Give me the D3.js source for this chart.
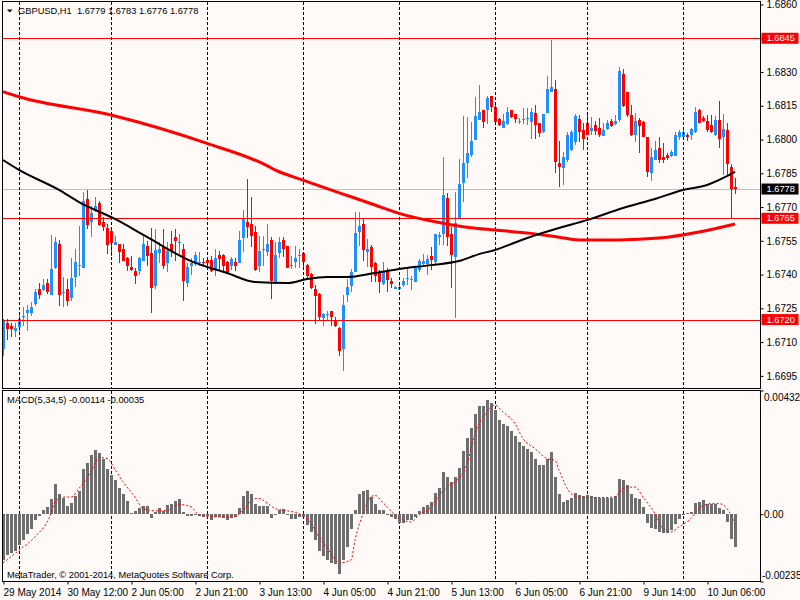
<!DOCTYPE html>
<html>
<head>
<meta charset="utf-8">
<script src="https://cdn.jsdelivr.net/npm/d3@7"></script>
<style>
  body { margin: 0; background: #fffaf8; }
  svg { display: block; font-family: "Liberation Sans", Arial, sans-serif; font-size: 9.3px; }
</style>
</head>
<body>
<script>
// GBPUSD,H1 candles + two moving averages, MACD(5,34,5) below

var opens = [
  1.67069, 1.67185, 1.67173, 1.67151, 1.67169, 1.67214, 1.67229, 1.67229, 1.67269, 1.67336,
  1.67333, 1.67361, 1.67311, 1.67429, 1.67536, 1.67320, 1.67336, 1.67296, 1.67388, 1.67440,
  1.67431, 1.67736, 1.67632, 1.67684, 1.67717, 1.67632, 1.67607, 1.67595, 1.67533, 1.67536,
  1.67514, 1.67472, 1.67435, 1.67417, 1.67414, 1.67462, 1.67526, 1.67496, 1.67351, 1.67494,
  1.67526, 1.67450, 1.67536, 1.67566, 1.67542, 1.67514, 1.67361, 1.67437, 1.67447, 1.67450,
  1.67457, 1.67466, 1.67466, 1.67425, 1.67487, 1.67487, 1.67457, 1.67440, 1.67454, 1.67451,
  1.67563, 1.67635, 1.67625, 1.67588, 1.67440, 1.67511, 1.67502, 1.67554, 1.67363, 1.67494,
  1.67554, 1.67526, 1.67441, 1.67454, 1.67486, 1.67496, 1.67443, 1.67403, 1.67336, 1.67314,
  1.67206, 1.67220, 1.67237, 1.67200, 1.67163, 1.67069, 1.67309, 1.67351, 1.67413, 1.67588,
  1.67625, 1.67502, 1.67524, 1.67450, 1.67413, 1.67357, 1.67416, 1.67371, 1.67336, 1.67336,
  1.67354, 1.67380, 1.67376, 1.67369, 1.67420, 1.67446, 1.67446, 1.67483, 1.67457, 1.67569,
  1.67579, 1.67739, 1.67579, 1.67480, 1.67650, 1.67809, 1.67894, 1.67931, 1.67998, 1.68087,
  1.68131, 1.68131, 1.68194, 1.68146, 1.68091, 1.68050, 1.68068, 1.68130, 1.68112, 1.68081,
  1.68088, 1.68091, 1.68077, 1.68117, 1.68075, 1.68032, 1.68120, 1.68210, 1.68225, 1.67894,
  1.67872, 1.67909, 1.67954, 1.67991, 1.68091, 1.68043, 1.68072, 1.68038, 1.68065, 1.68053,
  1.68017, 1.68047, 1.68083, 1.68068, 1.68087, 1.68291, 1.68210, 1.68109, 1.68020, 1.68087,
  1.68077, 1.68013, 1.67850, 1.67909, 1.67961, 1.67924, 1.67931, 1.67928, 1.67928, 1.68010,
  1.68013, 1.68020, 1.68020, 1.68032, 1.68131, 1.68094, 1.68083, 1.68065, 1.68020, 1.68087,
  1.68010, 1.68043, 1.67880, 1.67790
];
var highs = [
  1.67203, 1.67203, 1.67185, 1.67183, 1.67228, 1.67257, 1.67265, 1.67280, 1.67336, 1.67361,
  1.67380, 1.67380, 1.67576, 1.67569, 1.67554, 1.67388, 1.67380, 1.67474, 1.67514, 1.67617,
  1.67766, 1.67776, 1.67706, 1.67743, 1.67726, 1.67654, 1.67625, 1.67600, 1.67573, 1.67536,
  1.67536, 1.67477, 1.67484, 1.67428, 1.67477, 1.67580, 1.67551, 1.67607, 1.67603, 1.67543,
  1.67603, 1.67543, 1.67595, 1.67603, 1.67580, 1.67536, 1.67450, 1.67472, 1.67502, 1.67502,
  1.67472, 1.67477, 1.67481, 1.67514, 1.67506, 1.67491, 1.67462, 1.67480, 1.67472, 1.67595,
  1.67687, 1.67825, 1.67746, 1.67617, 1.67573, 1.67573, 1.67625, 1.67566, 1.67546, 1.67566,
  1.67566, 1.67529, 1.67484, 1.67526, 1.67514, 1.67499, 1.67447, 1.67407, 1.67354, 1.67318,
  1.67229, 1.67240, 1.67240, 1.67210, 1.67166, 1.67309, 1.67380, 1.67425, 1.67677, 1.67677,
  1.67650, 1.67558, 1.67531, 1.67457, 1.67420, 1.67457, 1.67428, 1.67383, 1.67350, 1.67361,
  1.67383, 1.67428, 1.67395, 1.67428, 1.67469, 1.67491, 1.67487, 1.67524, 1.67580, 1.67591,
  1.67921, 1.67761, 1.67613, 1.67766, 1.67914, 1.68105, 1.68102, 1.68080, 1.68191, 1.68243,
  1.68131, 1.68195, 1.68194, 1.68169, 1.68094, 1.68114, 1.68146, 1.68131, 1.68112, 1.68094,
  1.68142, 1.68139, 1.68139, 1.68154, 1.68075, 1.68114, 1.68284, 1.68443, 1.68265, 1.67994,
  1.67946, 1.68035, 1.68043, 1.68114, 1.68109, 1.68072, 1.68109, 1.68102, 1.68083, 1.68094,
  1.68072, 1.68087, 1.68091, 1.68109, 1.68321, 1.68314, 1.68210, 1.68154, 1.68117, 1.68094,
  1.68083, 1.68013, 1.67961, 1.67994, 1.68013, 1.67983, 1.67939, 1.67954, 1.68032, 1.68043,
  1.68043, 1.68028, 1.68050, 1.68146, 1.68136, 1.68105, 1.68109, 1.68109, 1.68106, 1.68171,
  1.68112, 1.68072, 1.67890, 1.67830
];
var lows = [
  1.67040, 1.67111, 1.67121, 1.67121, 1.67140, 1.67173, 1.67149, 1.67217, 1.67262, 1.67291,
  1.67329, 1.67314, 1.67309, 1.67425, 1.67262, 1.67254, 1.67262, 1.67284, 1.67343, 1.67395,
  1.67431, 1.67603, 1.67566, 1.67677, 1.67617, 1.67592, 1.67491, 1.67484, 1.67533, 1.67450,
  1.67459, 1.67414, 1.67417, 1.67358, 1.67399, 1.67459, 1.67440, 1.67229, 1.67336, 1.67450,
  1.67425, 1.67410, 1.67477, 1.67462, 1.67491, 1.67281, 1.67343, 1.67398, 1.67440, 1.67440,
  1.67440, 1.67440, 1.67410, 1.67392, 1.67417, 1.67417, 1.67403, 1.67422, 1.67417, 1.67451,
  1.67502, 1.67561, 1.67521, 1.67417, 1.67413, 1.67440, 1.67484, 1.67291, 1.67358, 1.67472,
  1.67477, 1.67428, 1.67425, 1.67431, 1.67431, 1.67432, 1.67380, 1.67336, 1.67180, 1.67198,
  1.67170, 1.67198, 1.67170, 1.67166, 1.67040, 1.66970, 1.67280, 1.67321, 1.67410, 1.67526,
  1.67462, 1.67432, 1.67369, 1.67369, 1.67317, 1.67354, 1.67324, 1.67339, 1.67336, 1.67334,
  1.67346, 1.67354, 1.67330, 1.67369, 1.67413, 1.67443, 1.67398, 1.67420, 1.67443, 1.67531,
  1.67531, 1.67529, 1.67339, 1.67209, 1.67650, 1.67724, 1.67828, 1.67924, 1.67998, 1.68087,
  1.68050, 1.68068, 1.68124, 1.68069, 1.68062, 1.68050, 1.68065, 1.68094, 1.68072, 1.68068,
  1.68068, 1.68065, 1.68001, 1.68001, 1.68010, 1.68028, 1.68117, 1.68210, 1.67850, 1.67791,
  1.67798, 1.67902, 1.67949, 1.67976, 1.67991, 1.67954, 1.68020, 1.68020, 1.68020, 1.68013,
  1.68017, 1.68043, 1.68057, 1.68065, 1.68077, 1.68146, 1.68102, 1.68017, 1.67991, 1.67939,
  1.68013, 1.67835, 1.67817, 1.67909, 1.67894, 1.67897, 1.67909, 1.67924, 1.67928, 1.67998,
  1.68006, 1.67994, 1.67998, 1.68028, 1.68072, 1.68077, 1.68035, 1.68028, 1.68017, 1.67961,
  1.67843, 1.67843, 1.67650, 1.67760
];
var closes = [
  1.67195, 1.67158, 1.67158, 1.67163, 1.67203, 1.67217, 1.67243, 1.67257, 1.67321, 1.67309,
  1.67354, 1.67321, 1.67425, 1.67546, 1.67311, 1.67323, 1.67281, 1.67383, 1.67454, 1.67442,
  1.67726, 1.67622, 1.67672, 1.67703, 1.67622, 1.67613, 1.67533, 1.67540, 1.67546, 1.67499,
  1.67459, 1.67440, 1.67422, 1.67393, 1.67474, 1.67536, 1.67484, 1.67340, 1.67509, 1.67514,
  1.67440, 1.67506, 1.67506, 1.67551, 1.67545, 1.67373, 1.67435, 1.67450, 1.67487, 1.67457,
  1.67450, 1.67451, 1.67414, 1.67472, 1.67469, 1.67440, 1.67410, 1.67469, 1.67437, 1.67554,
  1.67647, 1.67613, 1.67573, 1.67420, 1.67506, 1.67515, 1.67536, 1.67373, 1.67489, 1.67543,
  1.67514, 1.67431, 1.67444, 1.67474, 1.67489, 1.67454, 1.67392, 1.67340, 1.67303, 1.67213,
  1.67223, 1.67223, 1.67213, 1.67170, 1.67062, 1.67265, 1.67346, 1.67410, 1.67585, 1.67614,
  1.67511, 1.67514, 1.67435, 1.67395, 1.67369, 1.67416, 1.67376, 1.67357, 1.67346, 1.67346,
  1.67371, 1.67386, 1.67382, 1.67428, 1.67460, 1.67460, 1.67469, 1.67465, 1.67580, 1.67575,
  1.67754, 1.67569, 1.67487, 1.67628, 1.67803, 1.67894, 1.67942, 1.67994, 1.68105, 1.68121,
  1.68077, 1.68186, 1.68146, 1.68077, 1.68065, 1.68083, 1.68121, 1.68102, 1.68090, 1.68084,
  1.68093, 1.68096, 1.68121, 1.68065, 1.68031, 1.68114, 1.68225, 1.68235, 1.67899, 1.67880,
  1.67924, 1.68020, 1.68032, 1.68105, 1.68032, 1.68001, 1.68020, 1.68053, 1.68038, 1.68020,
  1.68043, 1.68072, 1.68062, 1.68084, 1.68305, 1.68151, 1.68109, 1.68020, 1.68083, 1.68062,
  1.68013, 1.67857, 1.67924, 1.67954, 1.67909, 1.67909, 1.67916, 1.67943, 1.68020, 1.68035,
  1.68035, 1.68010, 1.68046, 1.68121, 1.68072, 1.68083, 1.68043, 1.68032, 1.68087, 1.68001,
  1.68046, 1.67890, 1.67779, 1.67780
];

// moving averages, read at sample bars
var maRedBars = [0, 4, 27, 51, 66, 68, 75, 93, 99, 110, 117, 123, 132, 139, 144, 154, 164, 174, 183];
var maRedVals = [1.68213, 1.68190, 1.68109, 1.67983, 1.67884, 1.67865, 1.67820, 1.67709, 1.67672, 1.67628,
                 1.67608, 1.67598, 1.67583, 1.67566, 1.67554, 1.67554, 1.67562, 1.67589, 1.67625];
var maBlackBars = [0, 4, 14, 19, 28, 36, 47, 56, 63, 71, 76, 81, 86, 93, 99, 107, 114, 119, 123, 129,
                   134, 139, 146, 155, 163, 170, 176, 183];
var maBlackVals = [1.67909, 1.67865, 1.67776, 1.67722, 1.67647, 1.67567, 1.67460, 1.67407, 1.67367, 1.67362,
                   1.67380, 1.67389, 1.67389, 1.67407, 1.67425, 1.67442, 1.67460, 1.67491, 1.67509, 1.67549,
                   1.67580, 1.67607, 1.67642, 1.67696, 1.67736, 1.67776, 1.67798, 1.67856];

var macdHist = [
  -0.00161, -0.00143, -0.00135, -0.00128, -0.00108, -0.00091, -0.00070, -0.00052, -0.00021, -0.00006,
   0.00016,  0.00026,  0.00052,  0.00105,  0.00070,  0.00058,  0.00029,  0.00040,  0.00065,  0.00080,
   0.00159,  0.00180,  0.00206,  0.00223,  0.00214,  0.00194,  0.00159,  0.00136,  0.00121,  0.00093,
   0.00070,  0.00047,  0.00005,  0.00010,  0.00020,  0.00030,  0.00028, -0.00013,  0.00006,  0.00022,
   0.00012,  0.00031,  0.00035,  0.00047,  0.00052,  0.00007, -0.00007, -0.00007, -0.00002, -0.00007,
  -0.00009, -0.00007, -0.00021, -0.00009, -0.00009, -0.00012, -0.00019, -0.00012, -0.00009,  0.00020,
   0.00064,  0.00081,  0.00072,  0.00035,  0.00029,  0.00029,  0.00029, -0.00012, -0.00003,  0.00014,
   0.00017, -0.00003, -0.00015, -0.00015, -0.00009, -0.00009, -0.00038, -0.00062, -0.00091, -0.00128,
  -0.00145, -0.00161, -0.00170, -0.00175, -0.00209, -0.00161, -0.00116, -0.00052,  0.00014,  0.00069,
   0.00081,  0.00086,  0.00061,  0.00037,  0.00014,  0.00014, -0.00001, -0.00009, -0.00015, -0.00030,
  -0.00030, -0.00021, -0.00019, -0.00009,  0.00012,  0.00026,  0.00031,  0.00041,  0.00074,  0.00092,
   0.00148,  0.00130,  0.00113,  0.00130,  0.00163,  0.00221,  0.00266,  0.00301,  0.00351,  0.00377,
   0.00377,  0.00398,  0.00389,  0.00363,  0.00330,  0.00314,  0.00307,  0.00291,  0.00272,  0.00252,
   0.00237,  0.00226,  0.00218,  0.00194,  0.00171,  0.00171,  0.00194,  0.00218,  0.00130,  0.00070,
   0.00041,  0.00049,  0.00055,  0.00074,  0.00066,  0.00063,  0.00066,  0.00063,  0.00061,  0.00055,
   0.00055,  0.00055,  0.00055,  0.00063,  0.00124,  0.00121,  0.00101,  0.00072,  0.00058,  0.00052,
   0.00026, -0.00030, -0.00048, -0.00052, -0.00062, -0.00067, -0.00067, -0.00054, -0.00035, -0.00015,
  -0.00001,  0.00005,  0.00008,  0.00040,  0.00043,  0.00049,  0.00037,  0.00035,  0.00035,  0.00020,
   0.00014, -0.00027, -0.00085, -0.00114
];

// signal line, read at sample bars
var sigBars = [0, 4, 8, 12, 13, 15, 17, 19, 22, 24, 26, 28, 30, 33, 35, 38, 41, 44, 47, 49,
               53, 58, 60, 63, 64, 66, 68, 71, 74, 77, 79, 82, 84, 87, 88, 90, 92, 93, 95, 99,
               102, 104, 107, 109, 112, 113, 116, 118, 121, 123, 125, 128, 130, 133, 136, 138, 139, 142, 144, 149,
               153, 155, 158, 160, 163, 165, 167, 169, 172, 174, 177, 179, 181, 183];
var sigVals = [-0.00170, -0.00126, -0.00079, 0.00002, 0.00043, 0.00060, 0.00060, 0.00090, 0.00148, 0.00198,
               0.00195, 0.00156, 0.00113, 0.00060, 0.00020, 0.00012, 0.00014, 0.00034, 0.00026, -0.00003,
               -0.00009, -0.00009, 0.00014, 0.00055, 0.00055, 0.00040, 0.00020, 0.00012, 0.00002, -0.00033,
               -0.00079, -0.00137, -0.00170, -0.00160, -0.00091, 0.00002, 0.00060, 0.00066, 0.00040, -0.00012,
               -0.00027, -0.00003, 0.00026, 0.00066, 0.00105, 0.00113, 0.00177, 0.00282, 0.00357, 0.00381,
               0.00357, 0.00317, 0.00264, 0.00229, 0.00194, 0.00188, 0.00154, 0.00072, 0.00060, 0.00058,
               0.00060, 0.00090, 0.00095, 0.00060, 0.00002, -0.00050, -0.00062, -0.00044, -0.00015, 0.00020,
               0.00037, 0.00037, 0.00020, -0.00035];

var priceTicks = [1.6695, 1.6710, 1.6725, 1.6740, 1.6755, 1.6770, 1.6785, 1.6800, 1.6815, 1.6830, 1.6845, 1.6860];
var redLevels = [1.6845, 1.6765, 1.6720];
var bid = 1.6778;
var dayStartBars = [4, 27, 51, 75, 99, 123, 146, 170];
var timeTickBars = [0, 16, 32, 48, 64, 80, 96, 112, 128, 144, 160, 176];
var timeLabels = ['29 May 2014', '30 May 12:00', '2 Jun 05:00', '2 Jun 21:00', '3 Jun 13:00', '4 Jun 05:00',
                  '4 Jun 21:00', '5 Jun 13:00', '6 Jun 05:00', '6 Jun 21:00', '9 Jun 14:00', '10 Jun 06:00'];
var macdTicks = [0.00432, 0, -0.00235];

var bull = '#1e90ff', bear = '#ff0000';
var panelLeft = 2.5, panelRight = 760.5;

var x = d3.scaleLinear().domain([0, 183]).range([3, 735]);
var y = d3.scaleLinear().domain([1.66896, 1.68620]).range([388, 0]);
var ym = d3.scaleLinear().domain([-0.00235, 0.00432]).range([581.5, 390.5]);

var svg = d3.select('body').append('svg')
    .attr('width', 800)
    .attr('height', 600);

svg.append('rect')
    .attr('width', 800)
    .attr('height', 600)
    .attr('fill', '#fffaf8');

var main = svg.append('g').attr('shape-rendering', 'crispEdges');

// bid line
main.append('line')
    .attr('x1', panelLeft).attr('x2', panelRight)
    .attr('y1', Math.round(y(bid)) + 0.5).attr('y2', Math.round(y(bid)) + 0.5)
    .attr('stroke', '#c0c0c0');

// day separators, both panels
[[1.5, 388], [391, 581]].forEach(function (r) {
  svg.append('g').selectAll('line')
      .data(dayStartBars)
      .enter().append('line')
      .attr('x1', function (d) { return x(d) + 0.5; })
      .attr('x2', function (d) { return x(d) + 0.5; })
      .attr('y1', r[0]).attr('y2', r[1])
      .attr('stroke', '#000')
      .attr('stroke-dasharray', '3,2')
      .attr('shape-rendering', 'crispEdges');
});

var idx = d3.range(closes.length);

var candles = main.append('g');
candles.selectAll('line')
    .data(idx)
    .enter().append('line')
    .attr('x1', function (i) { return x(i) + 0.5; })
    .attr('x2', function (i) { return x(i) + 0.5; })
    .attr('y1', function (i) { return y(highs[i]); })
    .attr('y2', function (i) { return y(lows[i]); })
    .attr('stroke', function (i) { return closes[i] >= opens[i] ? bull : bear; });
candles.selectAll('rect')
    .data(idx)
    .enter().append('rect')
    .attr('x', function (i) { return x(i) - 1; })
    .attr('width', 3)
    .attr('y', function (i) { return y(Math.max(opens[i], closes[i])); })
    .attr('height', function (i) { return Math.max(1, Math.abs(y(opens[i]) - y(closes[i]))); })
    .attr('fill', function (i) { return closes[i] >= opens[i] ? bull : bear; });

// moving averages
var maLine = function (bars, vals) {
  return d3.line()
      .x(function (d, k) { return x(bars[k]); })
      .y(function (d) { return y(d); })
      .curve(d3.curveMonotoneX)(vals);
};
svg.append('path')
    .attr('d', maLine(maRedBars, maRedVals))
    .attr('fill', 'none')
    .attr('stroke', '#ff0000')
    .attr('stroke-width', 3);
svg.append('path')
    .attr('d', maLine(maBlackBars, maBlackVals))
    .attr('fill', 'none')
    .attr('stroke', '#000')
    .attr('stroke-width', 2);

// horizontal level lines
main.selectAll('.level')
    .data(redLevels)
    .enter().append('line')
    .attr('x1', panelLeft).attr('x2', panelRight)
    .attr('y1', function (d) { return Math.round(y(d)) + 0.5; })
    .attr('y2', function (d) { return Math.round(y(d)) + 0.5; })
    .attr('stroke', '#ff0000');

// MACD histogram + signal
svg.append('g').attr('shape-rendering', 'crispEdges')
  .selectAll('rect')
    .data(idx)
    .enter().append('rect')
    .attr('x', function (i) { return x(i) - 1; })
    .attr('width', 3)
    .attr('y', function (i) { return ym(Math.max(0, macdHist[i])); })
    .attr('height', function (i) { return Math.max(1, Math.abs(ym(macdHist[i]) - ym(0))); })
    .attr('fill', '#6e6e6e');

svg.append('path')
    .attr('d', d3.line()
        .x(function (d, k) { return x(sigBars[k]); })
        .y(function (d) { return ym(d); })
        .curve(d3.curveMonotoneX)(sigVals))
    .attr('fill', 'none')
    .attr('stroke', '#ff0000')
    .attr('stroke-width', 1)
    .attr('stroke-dasharray', '2,2');

// panel frames
svg.append('rect')
    .attr('x', panelLeft).attr('y', 1.5)
    .attr('width', panelRight - panelLeft).attr('height', 387)
    .attr('fill', 'none').attr('stroke', '#000')
    .attr('shape-rendering', 'crispEdges');
svg.append('rect')
    .attr('x', panelLeft).attr('y', 390.5)
    .attr('width', panelRight - panelLeft).attr('height', 191)
    .attr('fill', 'none').attr('stroke', '#000')
    .attr('shape-rendering', 'crispEdges');

// price axis, labels under the level tags are left out
var yAxis = d3.axisRight(y)
    .tickValues(priceTicks)
    .tickSize(3)
    .tickPadding(3)
    .tickFormat(function (d) { return redLevels.indexOf(d) >= 0 ? '' : d.toFixed(4); });
var ya = svg.append('g')
    .attr('transform', 'translate(' + panelRight + ',0)')
    .call(yAxis);
ya.select('.domain').remove();
ya.selectAll('text').attr('font-family', null).attr('font-size', null).attr('fill', '#000');

// level tags
var tags = redLevels.map(function (d) { return {v: d, c: '#ff0000'}; }).concat([{v: bid, c: '#000'}]);
var tg = svg.selectAll('.tag')
    .data(tags)
    .enter().append('g')
    .attr('transform', function (d) { return 'translate(' + panelRight + ',' + y(d.v) + ')'; });
tg.append('rect')
    .attr('x', 1).attr('y', -5.5)
    .attr('width', 37).attr('height', 11)
    .attr('fill', function (d) { return d.c; });
tg.append('text')
    .attr('x', 6).attr('dy', '0.34em')
    .attr('fill', '#fff')
    .text(function (d) { return d.v.toFixed(4); });

// MACD axis
var ma = svg.append('g')
    .attr('transform', 'translate(' + panelRight + ',0)')
    .call(d3.axisRight(ym).tickValues(macdTicks).tickSize(3).tickPadding(0)
        .tickFormat(function (d) { return d === 0 ? '0.00' : d.toFixed(5); }));
ma.select('.domain').remove();
ma.selectAll('text')
    .attr('font-family', null).attr('font-size', null).attr('fill', '#000')
    .attr('x', function (d) { return d < 0 ? 1.5 : 3.5; })
    .attr('dy', function (d) { return d > 0 ? '0.95em' : (d < 0 ? '-0.35em' : '0.32em'); });

// time axis
var xa = svg.append('g')
    .attr('transform', 'translate(0,581.5)')
    .call(d3.axisBottom(x).tickValues(timeTickBars).tickSize(3).tickPadding(4)
        .tickFormat(function (d, k) { return timeLabels[k]; }));
xa.select('.domain').remove();
xa.selectAll('line').attr('transform', 'translate(0.5,0)');
xa.selectAll('text')
    .attr('font-family', null).attr('font-size', null).attr('fill', '#000')
    .attr('text-anchor', 'start');

// captions
svg.append('path')
    .attr('d', 'M7,9.5 L12.5,9.5 L9.75,12.5 Z')
    .attr('fill', '#000');
svg.append('text')
    .attr('x', 18).attr('y', 14)
    .style('white-space', 'pre')
    .text('GBPUSD,H1  1.6779 1.6783 1.6776 1.6778');
svg.append('text')
    .attr('x', 7).attr('y', 403)
    .style('white-space', 'pre')
    .text('MACD(5,34,5) -0.00114 -0.00035');
svg.append('text')
    .attr('x', 7).attr('y', 578)
    .text('MetaTrader, \u00a9 2001-2014, MetaQuotes Software Corp.');
</script>
</body>
</html>
